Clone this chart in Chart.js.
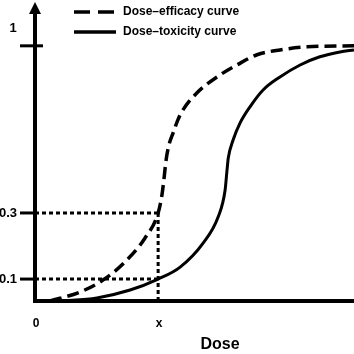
<!DOCTYPE html>
<html>
<head>
<meta charset="utf-8">
<script src="https://cdn.jsdelivr.net/npm/chart.js@4/dist/chart.umd.min.js"></script>
<style>
  html, body { margin: 0; padding: 0; background: #fff; }
  #wrap { width: 354px; height: 354px; position: relative; }
</style>
</head>
<body>
<div id="wrap"><canvas id="doseChart"></canvas></div>
<script>
// Schematic dose-response curves (y positions)
const efficacyX = [0.47, 1.41, 2.13, 2.82, 3.45, 3.86, 3.98, 4.04, 4.11, 4.20, 4.33, 4.48, 4.64, 5.08, 5.80, 6.33, 6.96, 7.68, 8.53, 10];
const efficacyY = [0, 0.035, 0.082, 0.153, 0.247, 0.345, 0.416, 0.475, 0.553, 0.612, 0.659, 0.71, 0.749, 0.816, 0.886, 0.925, 0.965, 0.984, 0.996, 1.0];

const toxicityX = [0.78, 1.94, 2.98, 3.86, 4.55, 5.27, 5.74, 5.96, 6.02, 6.06, 6.21, 6.43, 6.74, 7.15, 7.68, 8.31, 8.93, 9.56, 10];
const toxicityY = [0, 0.012, 0.043, 0.086, 0.133, 0.227, 0.329, 0.435, 0.514, 0.561, 0.631, 0.698, 0.761, 0.827, 0.878, 0.925, 0.957, 0.976, 0.984];

const seriesNames = ['Dose\u2013efficacy curve', 'Dose\u2013toxicity curve'];

// marked dose "x" and the two probabilities read at it
const markDose = 3.86;
const markLevels = [0.345, 0.086];

const yTickValues = [1, 0.345, 0.086];
const yTickLabels = ['1', '0.3', '0.1'];
const xTickValues = [0, markDose];
const xTickLabels = ['0', 'x'];
const xTitle = 'Dose';

function toPoints(xs, ys) {
    return xs.map((x, i) => ({ x: x, y: ys[i] }));
}

const refLines = [];
markLevels.forEach(v => {
    refLines.push({ data: [{ x: 0, y: v }, { x: markDose, y: v }] });
});
refLines.push({ data: [{ x: markDose, y: 0 }, { x: markDose, y: markLevels[0] }] });

const family = '"Liberation Sans", Arial, sans-serif';

const axesPlugin = {
    id: 'schematicAxes',
    afterDatasetsDraw(chart) {
        const ctx = chart.ctx;
        const xs = chart.scales.x;
        const ys = chart.scales.y;
        const x0 = xs.getPixelForValue(0);
        const y0 = ys.getPixelForValue(0);
        const top = chart.chartArea.top;

        ctx.save();
        ctx.strokeStyle = '#000';
        ctx.fillStyle = '#000';
        ctx.setLineDash([]);

        // y axis with arrow
        ctx.lineWidth = 4;
        ctx.beginPath();
        ctx.moveTo(x0, y0 + 2);
        ctx.lineTo(x0, top + 6);
        ctx.stroke();
        ctx.beginPath();
        ctx.moveTo(x0, top - 3);
        ctx.lineTo(x0 - 6, top + 9);
        ctx.lineTo(x0 + 6, top + 9);
        ctx.closePath();
        ctx.fill();

        // x axis
        ctx.beginPath();
        ctx.moveTo(x0 - 2, y0);
        ctx.lineTo(chart.width, y0);
        ctx.stroke();

        // y ticks and labels
        ctx.lineWidth = 3;
        ctx.font = 'bold 13px ' + family;
        ctx.textBaseline = 'middle';
        yTickValues.forEach((v, i) => {
            const py = ys.getPixelForValue(v);
            ctx.beginPath();
            ctx.moveTo(x0 - 15, py);
            ctx.lineTo(i === 0 ? x0 + 8 : x0, py);
            ctx.stroke();
            if (i === 0) {
                ctx.textAlign = 'center';
                ctx.fillText(yTickLabels[i], x0 - 22, py - 17);
            } else {
                ctx.textAlign = 'right';
                ctx.fillText(yTickLabels[i], x0 - 18, py);
            }
        });

        // x tick labels
        ctx.font = 'bold 12px ' + family;
        ctx.textAlign = 'center';
        xTickValues.forEach((v, i) => {
            ctx.fillText(xTickLabels[i], xs.getPixelForValue(v) + 1, y0 + 23);
        });

        // x title
        ctx.font = 'bold 16px ' + family;
        ctx.fillText(xTitle, 220, y0 + 44);

        // legend
        ctx.lineWidth = 3.5;
        ctx.font = 'bold 12px ' + family;
        ctx.textAlign = 'left';
        [[16, 8], []].forEach((dash, i) => {
            const ly = 12 + i * 20;
            ctx.setLineDash(dash);
            ctx.beginPath();
            ctx.moveTo(74, ly);
            ctx.lineTo(116, ly);
            ctx.stroke();
            ctx.setLineDash([]);
            ctx.fillText(seriesNames[i], 123, ly);
        });
        ctx.restore();
    }
};

const ctx = document.getElementById('doseChart').getContext('2d');
new Chart(ctx, {
    type: 'line',
    data: {
        datasets: [
            {
                label: seriesNames[0],
                data: toPoints(efficacyX, efficacyY),
                borderColor: '#000',
                borderWidth: 3.5,
                borderDash: [12, 6],
                cubicInterpolationMode: 'monotone',
                pointRadius: 0,
                fill: false,
                clip: false
            },
            {
                label: seriesNames[1],
                data: toPoints(toxicityX, toxicityY),
                borderColor: '#000',
                borderWidth: 3,
                cubicInterpolationMode: 'monotone',
                pointRadius: 0,
                fill: false,
                clip: false
            }
        ].concat(refLines.map(r => ({
            label: 'ref',
            data: r.data,
            borderColor: '#000',
            borderWidth: 3,
            borderDash: [4, 3],
            pointRadius: 0,
            tension: 0,
            fill: false,
            clip: false
        })))
    },
    options: {
        responsive: true,
        maintainAspectRatio: false,
        animation: false,
        layout: { padding: { left: 35, right: 0, top: 5, bottom: 53 } },
        scales: {
            x: { type: 'linear', min: 0, max: 10, display: false },
            y: { type: 'linear', min: 0, max: 1.16, display: false }
        },
        plugins: {
            legend: { display: false },
            tooltip: { enabled: false }
        }
    },
    plugins: [axesPlugin]
});
</script>
</body>
</html>
